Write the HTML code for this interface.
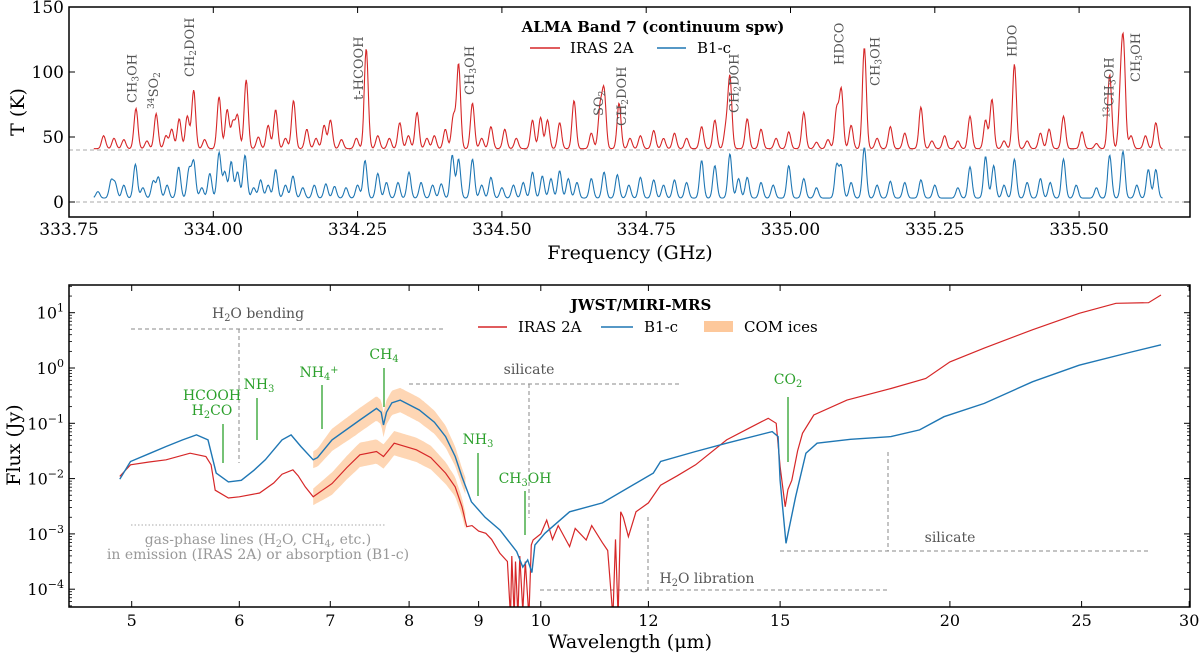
<!DOCTYPE html>
<html><head><meta charset="utf-8"><title>ALMA and JWST spectra</title>
<style>
html,body{margin:0;padding:0;background:#fff;}
svg{display:block;font-family:"DejaVu Serif","Liberation Serif",serif;}
</style></head>
<body>
<svg id="fig" width="1200" height="655" viewBox="0 0 1200 655" xmlns="http://www.w3.org/2000/svg">
<defs>
<clipPath id="clipTop"><rect x="69" y="7" width="1121" height="210"/></clipPath>
<clipPath id="clipBot"><rect x="69" y="285" width="1121" height="322"/></clipPath>
</defs>
<g id="top"></g>
<g id="bot"></g>
</svg>
<script>
// ---------- TOP PANEL DATA (ALMA) ----------
const redPeakFreq = [333.810,333.828,333.845,333.866,333.885,333.901,333.918,333.928,333.941,333.955,333.966,333.985,334.010,334.024,334.034,334.042,334.057,334.078,334.095,334.108,334.125,334.139,334.162,334.178,334.192,334.203,334.222,334.248,334.265,334.285,334.305,334.323,334.338,334.353,334.370,334.383,334.402,334.416,334.425,334.449,334.465,334.481,334.505,334.525,334.553,334.567,334.579,334.600,334.625,334.655,334.670,334.677,334.703,334.722,334.740,334.763,334.780,334.799,334.820,334.846,334.869,334.888,334.895,334.925,334.949,334.975,334.997,335.023,335.045,335.065,335.080,335.088,335.105,335.128,335.150,335.173,335.198,335.226,335.245,335.267,335.290,335.311,335.338,335.349,335.370,335.388,335.410,335.433,335.448,335.473,335.505,335.530,335.553,335.572,335.577,335.590,335.615,335.633];
const redPeakHeight = [10,8,7,31,6,27,10,15,23,25,45,7,40,30,20,25,53,9,18,30,8,37,15,8,18,22,7,8,77,10,8,20,10,28,8,10,15,25,65,35,8,17,15,8,22,24,22,20,37,12,30,44,35,8,10,14,8,12,8,17,22,15,55,23,15,8,13,28,5,7,30,45,18,78,8,17,12,32,6,10,6,25,22,38,6,65,6,12,15,25,13,4,57,40,72,10,10,20];
const redBaseline = 41;
const bluePeakFreq = [333.800,333.823,333.830,333.845,333.865,333.878,333.896,333.905,333.920,333.940,333.958,333.966,333.980,333.994,334.010,334.020,334.031,334.042,334.055,334.070,334.082,334.095,334.108,334.125,334.138,334.155,334.175,334.195,334.210,334.230,334.250,334.263,334.285,334.300,334.320,334.339,334.360,334.380,334.395,334.414,334.425,334.449,334.465,334.481,334.500,334.520,334.537,334.553,334.570,334.585,334.600,334.615,334.630,334.655,334.677,334.700,334.720,334.740,334.763,334.780,334.799,334.820,334.846,334.869,334.895,334.910,334.925,334.949,334.970,334.997,335.023,335.045,335.080,335.088,335.105,335.128,335.150,335.173,335.198,335.226,335.250,335.290,335.311,335.338,335.352,335.370,335.388,335.410,335.433,335.450,335.473,335.495,335.530,335.553,335.576,335.600,335.620,335.633];
const bluePeakHeight = [5,13,11,10,26,8,13,16,10,24,22,28,8,19,35,20,28,20,33,8,14,10,22,10,17,8,10,11,9,8,10,29,19,12,12,20,12,10,11,33,30,30,10,16,8,10,12,20,17,15,21,15,12,15,20,18,10,16,14,10,14,12,29,25,34,15,16,12,10,25,15,8,25,24,12,39,10,13,12,14,10,8,24,32,25,10,30,12,15,12,30,10,8,33,36,10,22,22];
const blueBaseline = 3;
const freqStart = 333.793, freqEnd = 335.645;
const topYTicks = [0,50,100,150];
const topXTicks = [333.75,334.00,334.25,334.50,334.75,335.00,335.25,335.50];
const topLineLabels = ["CH<sub>3</sub>OH","<sup>34</sup>SO<sub>2</sub>","CH<sub>2</sub>DOH","t-HCOOH","CH<sub>3</sub>OH","SO<sub>2</sub>","CH<sub>2</sub>DOH","CH<sub>2</sub>DOH","HDCO","CH<sub>3</sub>OH","HDO","<sup>13</sup>CH<sub>3</sub>OH","CH<sub>3</sub>OH"];
const topLabelFreq = [333.860,333.897,333.960,334.252,334.445,334.668,334.708,334.903,335.085,335.147,335.385,335.553,335.599];
const topLabelBase = [103,109,77,100,95,116,126,113,65,86,57,118,82];

// ---------- BOTTOM PANEL DATA (JWST) ----------
const redLambda = [4.90,4.99,5.15,5.30,5.52,5.67,5.72,5.76,5.89,6.0,6.21,6.36,6.45,6.57,6.63,6.71,6.80,7.02,7.2,7.36,7.57,7.66,7.72,7.80,8.10,8.3,8.51,8.65,8.75,8.82,8.9,9.0,9.11,9.2,9.33,9.45,9.5,9.52,9.56,9.58,9.62,9.65,9.7,9.74,9.8,9.84,9.87,10.0,10.1,10.2,10.3,10.5,10.6,10.8,10.9,11.1,11.2,11.3,11.35,11.4,11.45,11.5,11.6,11.75,12.0,12.25,12.6,13.0,13.7,14.2,14.7,14.9,15.0,15.13,15.2,15.3,15.45,15.58,15.88,16.8,18.1,19.2,20.0,21.2,23.0,24.9,26.5,28.0,28.6];
const redLogFlux = [-1.96,-1.75,-1.70,-1.66,-1.54,-1.60,-1.75,-2.21,-2.35,-2.33,-2.26,-2.08,-1.92,-1.84,-1.95,-2.15,-2.33,-2.09,-1.80,-1.57,-1.51,-1.60,-1.50,-1.36,-1.48,-1.62,-1.90,-2.15,-2.51,-2.87,-2.85,-2.95,-2.99,-3.1,-3.35,-3.5,-4.5,-3.4,-4.5,-3.5,-4.5,-3.4,-4.4,-3.5,-4.5,-3.2,-3.11,-3.0,-2.75,-3.1,-2.85,-3.23,-2.9,-3.11,-2.85,-3.16,-3.3,-4.5,-3.1,-4.5,-2.6,-2.7,-3.05,-2.6,-2.44,-2.12,-1.95,-1.75,-1.30,-1.10,-0.91,-1.00,-1.78,-2.51,-2.2,-2.03,-1.5,-1.18,-0.85,-0.58,-0.37,-0.19,0.11,0.36,0.69,0.99,1.17,1.18,1.32];
const blueLambda = [4.90,4.99,5.15,5.30,5.45,5.58,5.69,5.77,5.89,6.02,6.15,6.27,6.45,6.55,6.66,6.80,6.85,7.02,7.36,7.57,7.63,7.66,7.70,7.77,7.88,8.14,8.35,8.51,8.65,8.75,8.89,9.1,9.33,9.60,9.7,9.78,9.85,9.9,10.07,10.5,11.1,12.1,12.25,13.0,13.7,14.8,14.95,15.0,15.15,15.4,15.67,15.97,16.9,18.1,19.0,19.8,21.2,23.0,24.9,27.2,28.6];
const blueLogFlux = [-2.01,-1.69,-1.55,-1.42,-1.30,-1.21,-1.30,-1.90,-2.06,-2.03,-1.85,-1.66,-1.30,-1.21,-1.42,-1.66,-1.62,-1.30,-0.94,-0.73,-0.80,-1.03,-0.80,-0.63,-0.58,-0.76,-0.98,-1.24,-1.6,-1.97,-2.42,-2.7,-2.93,-3.32,-3.6,-3.47,-3.7,-3.2,-2.99,-2.6,-2.44,-1.90,-1.69,-1.51,-1.36,-1.15,-1.24,-2.03,-3.17,-2.33,-1.54,-1.36,-1.29,-1.24,-1.12,-0.88,-0.64,-0.25,0.05,0.29,0.42];
const iceLambda = [6.8,7.0,7.3,7.6,7.9,8.2,8.5,8.8];
const iceHalfWidthDex = [0.15,0.2,0.22,0.22,0.22,0.22,0.2,0.15];
const botXTicks = [5,6,7,8,9,10,12,15,20,25,30];
const botYDecades = [-4,-3,-2,-1,0,1];

const NS = "http://www.w3.org/2000/svg";
const topG = document.getElementById('top');
const botG = document.getElementById('bot');
function mk(tag, attrs, parent){const e=document.createElementNS(NS,tag);for(const k in attrs)e.setAttribute(k,attrs[k]);parent.appendChild(e);return e;}

// axis functions
const xT = f => 69 + (f - 333.75) * 577.2;
const yT = t => 202 - t * 1.3;
const xB = l => 131.7 + 1359 * Math.log10(l / 5);
const yB = lg => 312.7 - 55.3 * (lg - 1);

function spectrum(freqs, heights, base, sigma){
  const pts=[];
  for(let f=freqStart; f<=freqEnd; f+=0.0012){
    let v=base;
    for(let i=0;i<freqs.length;i++){const d=(f-freqs[i])/sigma;if(Math.abs(d)<5)v+=heights[i]*Math.exp(-0.5*d*d);}
    pts.push(xT(f).toFixed(1)+','+yT(v).toFixed(1));
  }
  return pts.join(' ');
}

// ---- top panel ----
let e;
e=mk('line',{x1:69,x2:1190,y1:yT(40),y2:yT(40),stroke:'#aaa','stroke-width':1,'stroke-dasharray':'4,3'},topG);


e=mk('line',{x1:69,x2:1190,y1:yT(0),y2:yT(0),stroke:'#aaa','stroke-width':1,'stroke-dasharray':'4,3'},topG);


e=mk('polyline',{points:spectrum(redPeakFreq,redPeakHeight,redBaseline,0.0034),fill:'none',stroke:'#d62728','stroke-width':1.1,'clip-path':'url(#clipTop)'},topG);


e=mk('polyline',{points:spectrum(bluePeakFreq,bluePeakHeight,blueBaseline,0.0034),fill:'none',stroke:'#1f77b4','stroke-width':1.1,'clip-path':'url(#clipTop)'},topG);


e=mk('rect',{x:69,y:7,width:1121,height:210,fill:'none',stroke:'#000','stroke-width':1.5},topG);


topYTicks.forEach(v=>{
  mk('line',{x1:69,x2:75,y1:yT(v),y2:yT(v),stroke:'#000'},topG);
  mk('line',{x1:1184,x2:1190,y1:yT(v),y2:yT(v),stroke:'#000'},topG);
  const t=mk('text',{x:64,y:yT(v)+6,'text-anchor':'end','font-size':17},topG);t.textContent=v;
  
  
});
topXTicks.forEach(v=>{
  mk('line',{x1:xT(v),x2:xT(v),y1:217,y2:211,stroke:'#000'},topG);
  mk('line',{x1:xT(v),x2:xT(v),y1:7,y2:13,stroke:'#000'},topG);
  const t=mk('text',{x:xT(v),y:235,'text-anchor':'middle','font-size':17},topG);t.textContent=v.toFixed(2);
  
  
});
e=mk('text',{x:0,y:0,'text-anchor':'middle','font-size':19,transform:'translate(24,112) rotate(-90)'},topG);e.textContent='T (K)';


e=mk('text',{x:630,y:259,'text-anchor':'middle','font-size':19},topG);e.textContent='Frequency (GHz)';


// line labels
function richText(parent,html,attrs){
  const t=mk('text',attrs,parent);
  const re=/<(sub|sup)>(.*?)<\/\1>|([^<]+)/g;let m;
  while((m=re.exec(html))){
    if(m[3]){const s=mk('tspan',{},t);s.textContent=m[3];}
    else{const s=mk('tspan',{'baseline-shift':m[1]==='sub'?'-25%':'40%','font-size':'70%'},t);s.textContent=m[2];const r=mk('tspan',{},t);r.textContent='';}
  }
  return t;
}
topLineLabels.forEach((lab,i)=>{
  const x=xT(topLabelFreq[i])+4, y=topLabelBase[i];
  const t=richText(topG,lab,{x:0,y:0,'font-size':13,fill:'#555',transform:`translate(${x},${y}) rotate(-90)`});
  
  
});
// legend top
e=mk('text',{x:653,y:32,'text-anchor':'middle','font-size':15,'font-weight':'bold'},topG);e.textContent='ALMA Band 7 (continuum spw)';


e=mk('line',{x1:530,x2:560,y1:48,y2:48,stroke:'#d62728','stroke-width':1.5},topG);


e=mk('text',{x:570,y:53,'font-size':15},topG);e.textContent='IRAS 2A';


e=mk('line',{x1:657,x2:686,y1:48,y2:48,stroke:'#1f77b4','stroke-width':1.5},topG);


e=mk('text',{x:697,y:53,'font-size':15},topG);e.textContent='B1-c';



// ---- bottom panel ----
function interp(xs,ys,x){for(let i=0;i<xs.length-1;i++){if(x>=xs[i]&&x<=xs[i+1]){const t=(x-xs[i])/(xs[i+1]-xs[i]);return ys[i]+t*(ys[i+1]-ys[i]);}}return ys[ys.length-1];}
function iceBand(lams,lgs){
  const up=[],lo=[];
  for(let l=iceLambda[0]; l<=iceLambda[iceLambda.length-1]+1e-9; l+=0.02){
    const c=interp(lams,lgs,l), w=interp(iceLambda,iceHalfWidthDex,l);
    up.push(xB(l).toFixed(1)+','+yB(c+w).toFixed(1));lo.unshift(xB(l).toFixed(1)+','+yB(c-w).toFixed(1));
  }
  return up.concat(lo).join(' ');
}
e=mk('polygon',{points:iceBand(redLambda,redLogFlux),fill:'#fdc89b','fill-opacity':0.75},botG);


e=mk('polygon',{points:iceBand(blueLambda,blueLogFlux),fill:'#fdc89b','fill-opacity':0.75},botG);



const dash={stroke:'#888','stroke-width':1,'stroke-dasharray':'4,3',fill:'none'};
function dl(x1,y1,x2,y2,name,extra){const a=Object.assign({x1,y1,x2,y2},dash,extra||{});const l=mk('line',a,botG);}
dl(131,329,443,329,'h2o-bending-bracket');dl(239,329,239,463,'h2o-bending-marker');
dl(409,384,682,384,'silicate-bracket');dl(529,384,529,518,'silicate-marker');
dl(780,551,1150,551,'silicate-bracket-2');dl(888,452,888,551,'silicate-marker-2');
dl(540,590,888,590,'h2o-libration-bracket');dl(648,517,648,590,'h2o-libration-marker');
dl(131,525,386,525,'gas-phase-bracket',{'stroke-dasharray':'1.5,2',stroke:'#aaa'});

function path(lams,lgs){return lams.map((l,i)=>xB(l).toFixed(1)+','+yB(lgs[i]).toFixed(1)).join(' ');}
e=mk('polyline',{points:path(redLambda,redLogFlux),fill:'none',stroke:'#d62728','stroke-width':1.2,'clip-path':'url(#clipBot)'},botG);


e=mk('polyline',{points:path(blueLambda,blueLogFlux),fill:'none',stroke:'#1f77b4','stroke-width':1.4,'clip-path':'url(#clipBot)'},botG);



// green annotations
const green='#2ca02c';
function gl(x,y1,y2,name){const l=mk('line',{x1:x,x2:x,y1,y2,stroke:green,'stroke-width':1.3},botG);}
function gt(x,y,html,name){const t=richText(botG,html,{x,y,'text-anchor':'middle','font-size':14,fill:green});}
gt(212,400,'HCOOH','hcooh-label');gt(212,415,'H<sub>2</sub>CO','h2co-label');gl(223,424,463,'hcooh-marker');
gt(259,389,'NH<sub>3</sub>','nh3-label');gl(257,398,440,'nh3-marker');
gt(319,377,'NH<sub>4</sub><sup>+</sup>','nh4-label');gl(322,385,429,'nh4-marker');
gt(384,359,'CH<sub>4</sub>','ch4-label');gl(384,368,407,'ch4-marker');
gt(478,444,'NH<sub>3</sub>','nh3-label-2');gl(478,453,496,'nh3-marker-2');
gt(525,483,'CH<sub>3</sub>OH','ch3oh-label');gl(525,491,535,'ch3oh-marker');
gt(788,384,'CO<sub>2</sub>','co2-label');gl(788,397,462,'co2-marker');
// gray labels
function gray(x,y,html,name,fill){const t=richText(botG,html,{x,y,'text-anchor':'middle','font-size':14,fill:fill||'#555'});}
gray(258,318,'H<sub>2</sub>O bending','h2o-bending-label');
gray(529,374,'silicate','silicate-label');
gray(950,542,'silicate','silicate-label-2');
gray(707,583,'H<sub>2</sub>O libration','h2o-libration-label');
gray(258,544,'gas-phase lines (H<sub>2</sub>O, CH<sub>4</sub>, etc.)','gas-phase-label-1','#999');
gray(258,559,'in emission (IRAS 2A) or absorption (B1-c)','gas-phase-label-2','#999');

e=mk('rect',{x:69,y:285,width:1121,height:322,fill:'none',stroke:'#000','stroke-width':1.5},botG);


botXTicks.forEach(v=>{
  mk('line',{x1:xB(v),x2:xB(v),y1:607,y2:601,stroke:'#000'},botG);
  mk('line',{x1:xB(v),x2:xB(v),y1:285,y2:291,stroke:'#000'},botG);
  const t=mk('text',{x:xB(v),y:626,'text-anchor':'middle','font-size':16},botG);t.textContent=v;
  
  
});
botYDecades.forEach(d=>{
  const y=yB(d);
  mk('line',{x1:69,x2:75,y1:y,y2:y,stroke:'#000'},botG);
  mk('line',{x1:1184,x2:1190,y1:y,y2:y,stroke:'#000'},botG);
  for(let m=2;m<=9;m++){const ym=yB(d+Math.log10(m));if(ym>285&&ym<607){mk('line',{x1:69,x2:72,y1:ym,y2:ym,stroke:'#000','stroke-width':0.8},botG);mk('line',{x1:1187,x2:1190,y1:ym,y2:ym,stroke:'#000','stroke-width':0.8},botG);}}
  const t=mk('text',{x:64,y:y+6,'text-anchor':'end','font-size':16},botG);
  const a=mk('tspan',{},t);a.textContent='10';
  const b=mk('tspan',{dy:-7,'font-size':11},t);b.textContent=d<0?'\u2212'+(-d):String(d);
  
  
});
for(let m=5;m<=9;m++){const ym=yB(-5+Math.log10(m));if(ym<607){mk('line',{x1:69,x2:72,y1:ym,y2:ym,stroke:'#000','stroke-width':0.8},botG);}}
e=mk('text',{x:0,y:0,'text-anchor':'middle','font-size':19,transform:'translate(20,445) rotate(-90)'},botG);e.textContent='Flux (Jy)';


e=mk('text',{x:630,y:648,'text-anchor':'middle','font-size':19},botG);e.textContent='Wavelength (\u03bcm)';


// legend bottom
e=mk('text',{x:641,y:310,'text-anchor':'middle','font-size':15,'font-weight':'bold'},botG);e.textContent='JWST/MIRI-MRS';


e=mk('line',{x1:478,x2:507,y1:327,y2:327,stroke:'#d62728','stroke-width':1.5},botG);


e=mk('text',{x:518,y:332,'font-size':15},botG);e.textContent='IRAS 2A';


e=mk('line',{x1:601,x2:633,y1:327,y2:327,stroke:'#1f77b4','stroke-width':1.5},botG);


e=mk('text',{x:644,y:332,'font-size':15},botG);e.textContent='B1-c';


e=mk('rect',{x:704,y:321,width:29,height:11,fill:'#fdc89b'},botG);


e=mk('text',{x:744,y:332,'font-size':15},botG);e.textContent='COM ices';


</script>
</body></html>
